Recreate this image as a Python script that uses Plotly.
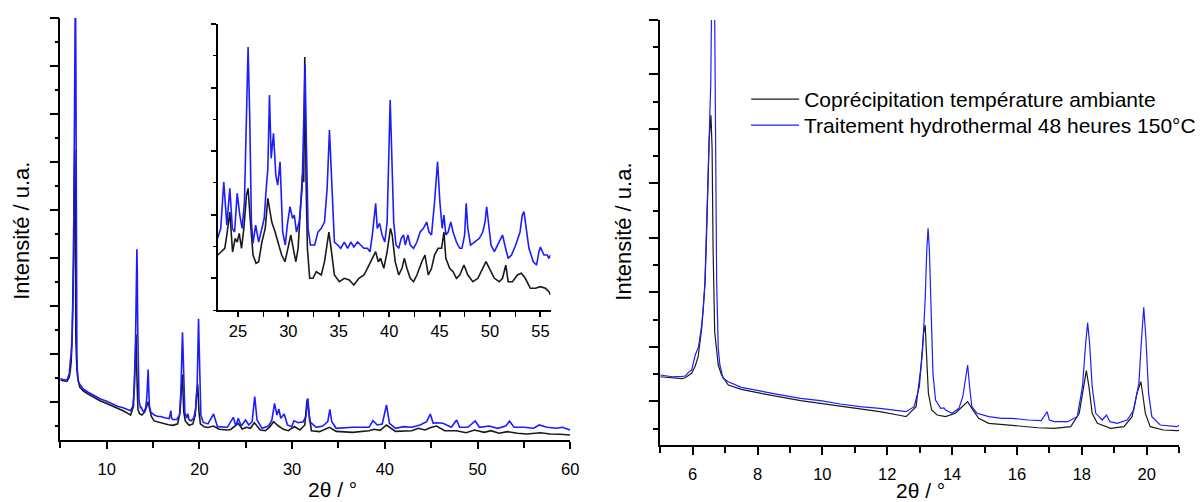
import plotly.graph_objects as go

# ---------------- data (counts) ----------------
tt_black = [5.00, 5.37, 5.67, 5.77, 5.97, 6.08, 6.17, 6.28, 6.38, 6.43, 6.48, 6.51, 6.565, 6.60, 6.63,
            6.68, 6.79, 6.89, 7.1, 7.5, 8.0, 8.62, 9.33, 9.94, 10.55, 11.16, 11.77, 12.33, 12.58, 12.89,
            13.04, 13.12, 13.17, 13.21, 13.27, 13.37, 13.54, 13.8, 14.1, 14.31, 14.48, 14.61, 14.82,
            15.13, 15.63, 16.14, 16.65, 17.15, 17.66, 17.92, 18.04, 18.14, 18.22, 18.32, 18.48, 18.89,
            19.3, 19.55, 19.7, 19.82, 19.86, 19.96, 20.11, 20.52, 20.93,
            21.53, 22.13, 23.02, 23.38, 24.19, 24.62, 25.08, 25.5, 25.93, 26.58, 27.11, 27.57, 28.0,
            28.53, 29.07, 29.6, 30.24, 30.84, 31.37, 31.62, 32.08, 32.96, 34.03, 34.75, 36.52, 38.3,
            38.83, 39.5, 40.18, 41.14, 42.91, 43.62, 44.33, 45.04, 45.57, 46.46, 47.7, 48.77, 49.66,
            50.72, 51.44, 52.33, 53.22, 54.28, 55.35, 56.77, 57.84, 58.9, 59.97]
int_black = [1453, 1440, 1420, 1435, 1515, 1650, 1820, 2350, 3150, 4050, 5250, 5800, 6250, 5644, 3809,
             2279, 1668, 1485, 1301, 1221, 1160, 1086, 1013, 965, 916, 855, 811, 750, 720, 903,
             1637, 2249, 2402, 1882, 1148, 842, 750, 720, 781, 903, 995, 873, 690,
             598, 567, 536, 517, 506, 536, 781, 1209, 1564, 1270, 781, 598, 506,
             536, 720, 1148, 1362, 1209, 781, 536, 475, 462,
             492, 423, 408, 420, 548, 430, 465, 445, 561, 408, 394, 465, 582,
             492, 423, 394, 480, 408, 513, 1050, 394, 374, 465, 380, 360, 394,
             423, 400, 513, 380, 394, 444, 408, 465, 492, 394, 394, 352, 408,
             360, 394, 340, 374, 340, 325, 352, 325, 320, 304]

tt_blue = [5.00, 5.37, 5.67, 5.77, 5.92, 5.97, 6.08, 6.18, 6.28, 6.33, 6.38, 6.43, 6.48, 6.51, 6.56,
           6.58, 6.63, 6.68, 6.71, 6.74, 6.79, 6.84, 6.94, 7.1, 7.5, 8.01, 8.62, 9.33, 9.94, 10.55,
           11.16, 11.77, 12.33, 12.58, 12.83, 12.99, 13.09, 13.17, 13.22, 13.26, 13.30, 13.35, 13.41,
           13.49, 13.65, 13.75, 13.8, 14.0, 14.21, 14.33, 14.41, 14.48, 14.54, 14.61, 14.77, 15.13,
           15.53, 15.84, 16.35, 16.75, 16.93, 17.0, 17.15, 17.56, 17.86, 18.02, 18.12, 18.18, 18.24,
           18.32, 18.43, 18.63, 18.76, 18.87, 19.09, 19.4, 19.6, 19.76, 19.84, 19.91, 19.98, 20.06,
           20.16, 20.42, 20.93,
           21.53, 21.95, 23.02, 23.66, 23.94, 24.19, 24.51, 24.98, 25.33, 25.69, 25.97, 26.22, 26.76,
           27.47, 27.82, 28.11, 28.36, 28.57, 28.78, 29.14, 29.5, 29.96, 30.2, 30.66, 31.2, 31.48,
           31.7, 31.9, 32.6, 33.3, 33.85, 34.07, 34.28, 34.75, 36.52, 38.3, 38.72, 39.18, 39.72,
           40.18, 40.5, 41.14, 42.03, 42.91, 43.8, 44.51, 44.9, 45.22, 45.57, 46.28, 47.17, 47.75,
           48.06, 48.95, 49.75, 50.2, 51.26, 52.15, 53.04, 53.45, 53.93, 55.0, 56.05, 56.65, 57.48,
           58.55, 59.15, 59.97]
int_blue = [1485, 1453, 1460, 1466, 1560, 1576, 1852, 2000, 2402, 2708, 3200, 4110, 5338, 5950, 6870,
            8090, 9800, 8090, 5644, 3191, 1974, 1668, 1424, 1362, 1258, 1197, 1130, 1057, 1013, 952,
            903, 873, 829, 811, 903, 1270, 1943, 2861, 3778, 4176, 3778, 2555, 1515,
            1026, 873, 880, 842, 781, 873, 1086, 1393, 1668, 1270, 903, 781, 720,
            690, 690, 659, 646, 811, 659, 628, 628, 720, 1270, 2066, 2444, 2066,
            1270, 781, 659, 750, 628, 598, 659, 842, 1332, 2127, 2727, 2127, 1148,
            720, 567, 536,
            742, 478, 465, 673, 492, 652, 492, 617, 513, 582, 1103, 617, 444,
            492, 617, 965, 721, 846, 652, 742, 513, 478, 600, 561, 582, 686,
            1069, 582, 465, 492, 582, 840, 582, 444, 465, 465, 603, 513, 534,
            930, 548, 444, 478, 465, 513, 582, 742, 548, 561, 548, 465, 617,
            465, 465, 596, 465, 492, 444, 492, 596, 465, 465, 444, 513, 465,
            444, 465, 408]

# ---------------- inset data (a.u.) ----------------
in_tt_black = [23.0, 23.3, 23.7, 23.9, 24.1, 24.2, 24.47, 24.73, 24.93, 25.13, 25.36, 25.59, 25.85, 26.01,
               26.24, 26.5, 26.8, 27.06, 27.38, 27.71, 27.97, 28.13, 28.36, 28.69, 29.02, 29.34, 29.67,
               29.99, 30.25, 30.55, 30.75, 30.97, 31.24, 31.4, 31.53, 31.63, 31.76, 31.89, 32.12, 32.45,
               32.77, 33.27, 33.59, 34.02, 34.24, 34.57, 35.06, 35.55, 36.04, 36.5, 37.0, 37.5, 37.84,
               38.17, 38.5, 38.66, 38.92, 39.15, 39.47, 39.8, 40.13, 40.3, 40.6, 40.95, 41.27, 41.5,
               41.76, 42.09, 42.42, 42.75, 43.24, 43.55, 43.88, 44.2, 44.5, 44.85, 45.2, 45.43, 45.62,
               46.0, 46.34, 46.67, 47.0, 47.42, 47.8, 48.3, 48.8, 49.28, 49.6, 49.94, 50.43, 50.92,
               51.24, 51.57, 51.8, 52.23, 52.72, 53.1, 53.5, 54.0, 54.5, 55.0, 55.5, 55.84, 56.0]
in_black = [55, 58, 61.7, 75, 95, 98, 58, 71.7, 68, 76.7, 61.7, 81.7, 115, 121.7,
            88.3, 55, 46.7, 48.3, 68, 81.7, 111.7, 101.7, 88, 78, 65, 55, 48.3,
            61.7, 75, 58.3, 48.3, 61.7, 108.3, 135, 128, 253, 128, 61.7, 31.7, 31.7,
            38.3, 35, 48.3, 78, 61.7, 35, 28.3, 31.7, 30, 25, 31.7, 35, 41.7,
            48.3, 55, 58.3, 48.3, 51.7, 41.7, 58.3, 81.7, 75, 48.3, 35, 41.7, 51.7,
            41.7, 31.7, 28.3, 35, 48.3, 55, 35, 41.7, 55, 61.7, 61.7, 78, 51.7,
            41.7, 38.3, 31.7, 35, 45, 35, 28.3, 31.7, 41.7, 48.3, 41.7, 31.7, 28.3,
            31.7, 45, 28.3, 28.3, 35, 36.7, 31.7, 21.7, 21.7, 23.3, 21.7, 18.3, 15]

in_tt_blue = [23.0, 23.3, 23.6, 23.9, 24.2, 24.45, 24.67, 24.93, 25.19, 25.42, 25.65, 25.85, 26.01, 26.17,
              26.34, 26.5, 26.76, 27.06, 27.38, 27.61, 27.81, 27.97, 28.13, 28.3, 28.53, 28.76, 28.95,
              29.18, 29.44, 29.7, 29.9, 30.16, 30.42, 30.59, 30.81, 31.08, 31.37, 31.53, 31.66, 31.79,
              31.96, 32.19, 32.61, 32.94, 33.27, 33.59, 33.85, 34.08, 34.34, 34.57, 34.9, 35.2, 35.55,
              35.88, 36.2, 36.5, 36.86, 37.19, 37.5, 37.84, 38.1, 38.33, 38.53, 38.66, 38.82, 39.05,
              39.3, 39.57, 39.8, 39.96, 40.1, 40.26, 40.45, 40.68, 40.95, 41.2, 41.43, 41.6, 41.86,
              42.09, 42.42, 42.75, 43.07, 43.4, 43.72, 43.95, 44.2, 44.5, 44.8, 45.03, 45.26, 45.43,
              45.62, 45.85, 46.11, 46.34, 46.67, 47.0, 47.22, 47.48, 47.64, 47.8, 48.07, 48.46, 48.95,
              49.28, 49.51, 49.67, 49.84, 50.1, 50.43, 50.75, 51.08, 51.24, 51.47, 51.8, 52.13, 52.55,
              52.98, 53.2, 53.37, 53.57, 53.86, 54.29, 54.62, 54.85, 55.0, 55.35, 55.68, 55.84, 56.0]
in_blue = [72, 81.7, 128, 85, 121.7, 81.7, 78, 116.7, 95, 81.7, 108, 211.7, 263, 195,
           88, 66.7, 85, 68, 81.7, 91.7, 121.7, 141.7, 215, 151.7, 176.7, 135, 125,
           148.3, 78, 65, 85, 103.3, 91.7, 95, 78, 88.3, 121.7, 195, 245, 168,
           81.7, 65, 65, 78, 81.7, 88, 121.7, 180, 110, 68, 65, 61.7, 68,
           61.7, 68, 63, 68, 65, 61.7, 61.7, 58.3, 75, 95, 106.7, 81.7, 86.7,
           75, 68, 88, 155, 210, 155, 88, 65, 61.7, 71.7, 75, 65, 75,
           65, 61.7, 68, 78, 81.7, 88, 78, 75, 108, 148.3, 108, 81.7, 95,
           75, 78, 88, 78, 68, 61.7, 61.7, 75, 106.7, 81.7, 65, 68, 71.7,
           78, 88, 103.3, 85, 65, 58.3, 65, 71.7, 75, 65, 51.7, 55, 65,
           78, 95, 98.3, 85, 61.7, 48.3, 45, 58.3, 63, 55, 55, 51.7, 55]

name_black = "Coprécipitation température ambiante"
name_blue = "Traitement hydrothermal 48 heures 150°C"
col_black = "#1a1a1a"
col_blue = "#1c1cff"

W, H = 1201, 502
FONT = "Liberation Sans, Arial, sans-serif"

def px_x(p):
    return p / W

def px_y(p):
    return (H - p) / H

fig = go.Figure()

# left main panel
fig.add_trace(go.Scatter(x=tt_black, y=int_black, mode="lines", line=dict(color=col_black, width=1.6),
                         xaxis="x", yaxis="y", showlegend=False, name=name_black))
fig.add_trace(go.Scatter(x=tt_blue, y=int_blue, mode="lines", line=dict(color=col_blue, width=1.6),
                         xaxis="x", yaxis="y", showlegend=False, name=name_blue))
# inset
fig.add_trace(go.Scatter(x=in_tt_black, y=in_black, mode="lines", line=dict(color=col_black, width=1.6),
                         xaxis="x2", yaxis="y2", showlegend=False, name=name_black))
fig.add_trace(go.Scatter(x=in_tt_blue, y=in_blue, mode="lines", line=dict(color=col_blue, width=1.6),
                         xaxis="x2", yaxis="y2", showlegend=False, name=name_blue))
# right panel
fig.add_trace(go.Scatter(x=tt_black, y=int_black, mode="lines", line=dict(color=col_black, width=1.2),
                         xaxis="x3", yaxis="y3", showlegend=True, name=name_black, legend="legend"))
fig.add_trace(go.Scatter(x=tt_blue, y=int_blue, mode="lines", line=dict(color=col_blue, width=1.2),
                         xaxis="x3", yaxis="y3", showlegend=True, name=name_blue, legend="legend2"))

axis_common = dict(showgrid=False, zeroline=False, showline=True, linecolor="black", linewidth=1.5,
                   ticks="outside", tickcolor="black", tickwidth=1.5, mirror=False,
                   tickfont=dict(family=FONT, size=16.5, color="black"))

leg_common = dict(xanchor="left", yanchor="top", bgcolor="rgba(0,0,0,0)",
                  font=dict(family=FONT, size=21, color="black"), itemwidth=48)

fig.update_layout(
    width=W, height=H,
    autosize=False,
    margin=dict(l=0, r=0, t=0, b=0),
    paper_bgcolor="white", plot_bgcolor="rgba(0,0,0,0)",
    font=dict(family=FONT, color="black"),
    xaxis=dict(domain=[px_x(61), px_x(577)], range=[5, 60], anchor="y", tick0=10, dtick=10, ticklen=7,
               ticklabelstandoff=6,
               minor=dict(dtick=5, ticklen=6, tickwidth=1.5, tickcolor="black", ticks="outside"), **axis_common),
    yaxis=dict(domain=[px_y(440), px_y(18)], range=[200, 9000], anchor="x", tick0=1000, dtick=1000, ticklen=9,
               showticklabels=False,
               minor=dict(dtick=500, ticklen=4, tickwidth=1.5, tickcolor="black", ticks="outside"), **axis_common),
    xaxis2=dict(domain=[px_x(220.3), px_x(557)], range=[23, 56], anchor="y2", tick0=25, dtick=5, ticklen=5,
                ticklabelstandoff=0,
                minor=dict(dtick=2.5, ticklen=5, tickwidth=1.2, tickcolor="black", ticks="outside"), **axis_common),
    yaxis2=dict(domain=[px_y(310), px_y(24)], range=[0, 286.1], anchor="x2", tick0=31.79, dtick=63.58, ticklen=5,
                showticklabels=False,
                minor=dict(dtick=31.79, ticklen=3, tickwidth=1.2, tickcolor="black", ticks="outside"), **axis_common),
    xaxis3=dict(domain=[px_x(668), px_x(1193)], range=[5, 21], anchor="y3", tick0=6, dtick=2, ticklen=8,
                ticklabelstandoff=5,
                minor=dict(dtick=1, ticklen=6, tickwidth=1.5, tickcolor="black", ticks="outside"), **axis_common),
    yaxis3=dict(domain=[px_y(445), px_y(20)], range=[200, 8000], anchor="x3", tick0=1000, dtick=1000, ticklen=9,
                showticklabels=False,
                minor=dict(dtick=500, ticklen=5, tickwidth=1.5, tickcolor="black", ticks="outside"), **axis_common),
    legend=dict(x=px_x(755), y=px_y(79), **leg_common),
    legend2=dict(x=px_x(755), y=px_y(105), **leg_common),
    showlegend=True,
)

ann_font = dict(family=FONT, size=21, color="black")
fig.add_annotation(text="2θ / °", x=px_x(336), y=px_y(489), xref="paper", yref="paper",
                   showarrow=False, font=ann_font, xanchor="center", yanchor="middle")
fig.add_annotation(text="2θ / °", x=px_x(931), y=px_y(490), xref="paper", yref="paper",
                   showarrow=False, font=ann_font, xanchor="center", yanchor="middle")
fig.add_annotation(text="Intensité / u.a.", x=px_x(21), y=px_y(231), xref="paper", yref="paper",
                   showarrow=False, font=dict(family=FONT, size=22, color="black"), textangle=-90,
                   xanchor="center", yanchor="middle")
fig.add_annotation(text="Intensité / u.a.", x=px_x(630), y=px_y(232), xref="paper", yref="paper",
                   showarrow=False, font=dict(family=FONT, size=22, color="black"), textangle=-90,
                   xanchor="center", yanchor="middle")

post = (
    "document.documentElement.style.margin='0';"
    "document.body.style.margin='0';"
    "document.body.style.overflow='hidden';"
    "var gd=document.getElementById('{plot_id}');"
    "gd.style.width='1201px';gd.style.height='502px';"
    "Plotly.relayout(gd,{width:1201,height:502});"
)
fig.write_html("out.html", config={"displayModeBar": False}, post_script=post)
